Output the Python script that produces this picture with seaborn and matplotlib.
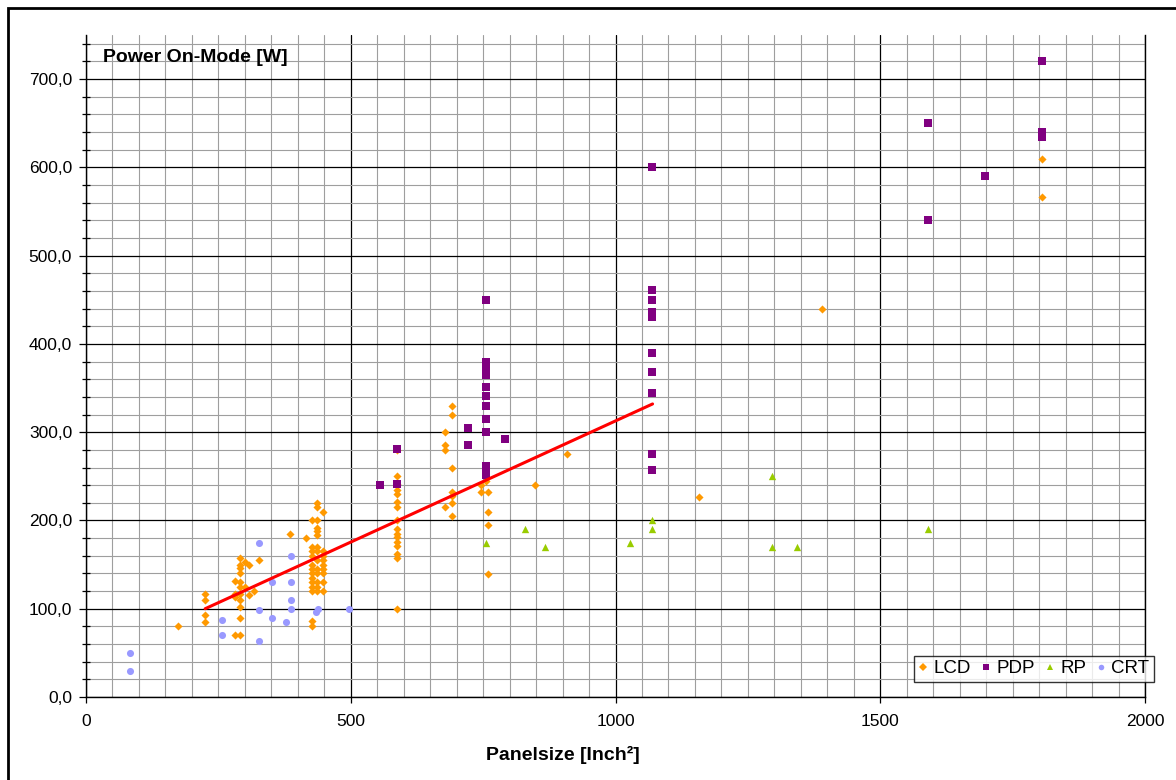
import matplotlib
matplotlib.use("Agg")
import matplotlib.pyplot as plt
from matplotlib.lines import Line2D
from matplotlib.patches import Rectangle
from matplotlib.ticker import MultipleLocator, FuncFormatter
import seaborn as sns
import pandas as pd

# Panel size [inch^2] and on-mode power [W] per technology
lcd_x = [174, 225, 225, 225, 225, 281, 281, 281, 281,
         291, 291, 291, 291, 291, 291, 291, 291, 291, 291, 291,
         300, 300, 308, 308, 317, 327, 385, 415,
         426, 426, 426, 426, 426, 426, 426, 426, 426, 426, 426, 426, 426,
         437, 437, 437, 437, 437, 437, 437, 437, 437, 437, 437, 437, 437, 437,
         447, 447, 447, 447, 447, 447, 447, 447, 447,
         587, 587, 587, 587, 587, 587, 587, 587, 587, 587, 587, 587, 587, 587, 587, 587,
         678, 678, 678, 678, 691, 691, 691, 691, 691, 691, 691,
         746, 746, 755, 760, 760, 760, 760,
         848, 909, 1157, 1390, 1805, 1805]
lcd_y = [80, 117, 110, 93, 85, 131, 117, 113, 70,
         157, 150, 146, 140, 130, 125, 117, 110, 102, 89, 70,
         153, 125, 150, 115, 120, 155, 185, 180,
         200, 170, 165, 160, 150, 145, 140, 135, 130, 125, 120, 86, 80,
         220, 215, 200, 192, 188, 183, 170, 165, 155, 145, 140, 130, 125, 120,
         210, 165, 160, 155, 150, 145, 140, 130, 120,
         280, 250, 241, 235, 230, 221, 215, 200, 190, 185, 181, 176, 171, 162, 157, 100,
         300, 285, 280, 215, 330, 320, 260, 232, 228, 220, 205,
         240, 232, 245, 232, 210, 195, 139,
         240, 275, 227, 440, 610, 567]

pdp_x = [556, 587, 587, 721, 721,
         755, 755, 755, 755, 755, 755, 755, 755, 755, 755, 755, 755, 792,
         1068, 1068, 1068, 1068, 1068, 1068, 1068, 1068, 1068, 1068,
         1590, 1590, 1698, 1805, 1805, 1805]
pdp_y = [240, 281, 241, 305, 285,
         450, 380, 371, 365, 351, 341, 330, 315, 300, 262, 257, 252, 292,
         600, 461, 450, 436, 430, 390, 368, 344, 275, 257,
         650, 540, 590, 720, 640, 635]

rp_x = [756, 829, 867, 1028, 1068, 1068, 1295, 1295, 1342, 1590]
rp_y = [175, 190, 170, 175, 200, 190, 250, 170, 170, 190]

crt_x = [83, 83, 256, 256, 327, 327, 327, 352, 352, 378,
         387, 387, 387, 387, 434, 439, 496]
crt_y = [50, 30, 87, 70, 175, 98, 64, 130, 90, 85,
         160, 130, 110, 100, 96, 100, 100]

# Linear trend (end points of the fitted line)
trend_x = [225, 1070]
trend_y = [100, 332]

categories = ["LCD", "PDP", "RP", "CRT"]
colors = {"LCD": "#FF9900", "PDP": "#800080", "RP": "#99CC00", "CRT": "#9999FF"}
markers = {"LCD": "D", "PDP": "s", "RP": "^", "CRT": "o"}
sizes = {"LCD": 17, "PDP": 26, "RP": 28, "CRT": 26}

frames = []
for name, xs, ys in [("LCD", lcd_x, lcd_y), ("PDP", pdp_x, pdp_y),
                     ("RP", rp_x, rp_y), ("CRT", crt_x, crt_y)]:
    frames.append(pd.DataFrame({"size": xs, "power": ys, "type": name}))
df = pd.concat(frames, ignore_index=True)

sns.set_theme(style="white")
plt.rcParams["font.family"] = ["Liberation Sans", "DejaVu Sans"]
plt.rcParams.update({"text.color": "black", "axes.labelcolor": "black",
                     "xtick.color": "black", "ytick.color": "black"})

W, H = 1176, 780
fig = plt.figure(figsize=(W / 100, H / 100), dpi=100)
ax = fig.add_axes([86 / W, 1 - 697 / H, (1145 - 86) / W, (697 - 35) / H])

for name in categories:
    sub = df[df["type"] == name]
    sns.scatterplot(data=sub, x="size", y="power", ax=ax, color=colors[name],
                    marker=markers[name], s=sizes[name], linewidth=0,
                    zorder=3, legend=False)

sns.lineplot(x=trend_x, y=trend_y, ax=ax, color="#FF0000", linewidth=2.2,
             zorder=4, legend=False)

ax.set_xlim(0, 2000)
ax.set_ylim(0, 750)
ax.xaxis.set_major_locator(MultipleLocator(500))
ax.xaxis.set_minor_locator(MultipleLocator(50))
ax.yaxis.set_major_locator(MultipleLocator(100))
ax.yaxis.set_minor_locator(MultipleLocator(20))
ax.yaxis.set_major_formatter(FuncFormatter(lambda v, p: f"{v:.1f}".replace(".", ",")))

ax.grid(which="minor", color="#9e9e9e", linewidth=0.8, zorder=0)
ax.grid(which="major", color="#000000", linewidth=0.9, zorder=1)
ax.set_axisbelow(True)

ax.tick_params(axis="y", which="major", direction="out", length=5, width=0.9,
               color="black", labelcolor="black", labelsize=12.5, pad=5, left=True)
ax.tick_params(axis="y", which="minor", direction="inout", length=6, width=0.9,
               color="black", left=True)
ax.tick_params(axis="x", which="major", direction="out", length=4, width=0.9,
               color="black", labelcolor="black", labelsize=12.5, pad=8, bottom=True)
ax.tick_params(axis="x", which="minor", length=0)

for side in ["left", "bottom", "right"]:
    ax.spines[side].set_color("black")
    ax.spines[side].set_linewidth(1.0)
ax.spines["top"].set_visible(False)

ax.set_xlabel("Panelsize [Inch²]", fontsize=14, fontweight="bold", color="black")
ax.set_ylabel("")
ax.xaxis.set_label_coords((563 - 86) / (1145 - 86), -(755 - 697) / (697 - 35))
ax.xaxis.label.set_verticalalignment("center")

fig.text(103 / W, 1 - 58 / H, "Power On-Mode [W]", fontsize=14,
         fontweight="bold", ha="left", va="center", color="black")

handles = [Line2D([], [], linestyle="none", marker=markers[c], color=colors[c],
                  markersize=4, markeredgewidth=0) for c in categories]
leg = ax.legend(handles, categories, ncol=4, loc="lower right",
                bbox_to_anchor=(1154 / W, 1 - 682 / H), bbox_transform=fig.transFigure,
                fontsize=13.5, frameon=True, fancybox=False, borderaxespad=0,
                handlelength=0.5, handletextpad=0.3, columnspacing=0.55,
                borderpad=0.25)
leg.get_frame().set_edgecolor("black")
leg.get_frame().set_linewidth(1.0)
for t in leg.get_texts():
    t.set_color("black")
leg.set_zorder(10)

# Outer chart border (top and left edges fall inside the canvas)
fig.patches.append(Rectangle((8 / W, -0.2), 1.2, 1.2 - 8 / H,
                             transform=fig.transFigure, fill=False,
                             edgecolor="black", linewidth=2.0))

fig.savefig("out.png", dpi=100)
